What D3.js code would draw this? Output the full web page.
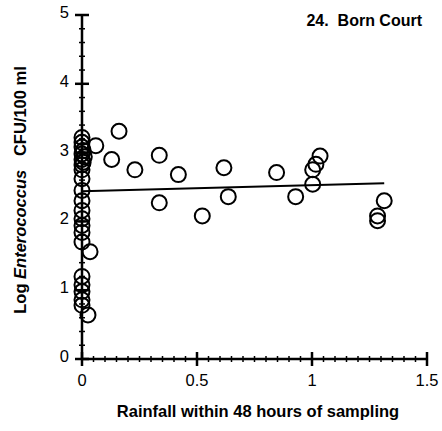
<!DOCTYPE html>
<html>
<head>
<meta charset="utf-8">
<script src="https://cdn.jsdelivr.net/npm/d3@7"></script>
<style>
  html, body { margin: 0; padding: 0; background: #fff; }
  svg { display: block; font-family: "Liberation Sans", Arial, sans-serif; }
</style>
</head>
<body>
<svg id="chart" width="442" height="431"></svg>
<script>
// Rainfall (inches within 48 h) vs. log Enterococcus count at site 24
const rainfall = [
  0, 0, 0, 0.005, 0, 0.01, 0, 0.005, 0, 0, 0, 0, 0, 0, 0, 0, 0, 0,
  0, 0, 0, 0, 0, 0.035, 0.026, 0.06,
  0.161, 0.129, 0.23, 0.336, 0.419, 0.617, 0.336, 0.523, 0.636,
  0.846, 0.929, 1.035, 1.017, 1.003, 1.003, 1.314, 1.285, 1.285
];
const logEnterococcus = [
  3.22, 3.15, 3.08, 3.03, 2.98, 2.94, 2.9, 2.86, 2.82, 2.75, 2.62, 2.45, 2.3, 2.16, 2.04, 1.94, 1.84, 1.7,
  1.2, 1.08, 0.98, 0.86, 0.78, 1.56, 0.64, 3.10,
  3.31, 2.9, 2.75, 2.96, 2.68, 2.78, 2.27, 2.08, 2.36,
  2.71, 2.36, 2.95, 2.83, 2.75, 2.54, 2.30, 2.08, 2.01
];
// Least-squares fit line
const fitIntercept = 2.44;
const fitSlope = 0.086;

const xTicks = [0, 0.5, 1, 1.5];
const xTickLabels = ["0", "0.5", "1", "1.5"];
const yTicks = [0, 1, 2, 3, 4, 5];

const svg = d3.select("#chart");
const x = d3.scaleLinear().domain([0, 1.5]).range([82, 427]);
const y = d3.scaleLinear().domain([0, 5]).range([359, 15]);

// Axes lines
svg.append("line").attr("x1", x(0)).attr("x2", x(1.5)).attr("y1", y(0)).attr("y2", y(0))
  .attr("stroke", "#000").attr("stroke-width", 2.5);
svg.append("line").attr("x1", x(0)).attr("x2", x(0)).attr("y1", y(0)).attr("y2", y(5))
  .attr("stroke", "#000").attr("stroke-width", 2.5);

// X minor ticks every 0.05, majors crossing the axis
const xMinor = d3.range(0, 1.5001, 0.05);
svg.append("g").selectAll("line").data(xMinor).join("line")
  .attr("x1", d => x(d)).attr("x2", d => x(d))
  .attr("y1", y(0) - 3).attr("y2", y(0) + 3)
  .attr("stroke", "#000").attr("stroke-width", 1.5);
svg.append("g").selectAll("line").data(xTicks).join("line")
  .attr("x1", d => x(d)).attr("x2", d => x(d))
  .attr("y1", y(0) - 7).attr("y2", y(0) + 7)
  .attr("stroke", "#000").attr("stroke-width", 2.5);
svg.append("g").selectAll("text").data(xTicks).join("text")
  .attr("x", d => x(d)).attr("y", y(0) + 27)
  .attr("text-anchor", "middle").attr("font-size", 16.5)
  .text((d, i) => xTickLabels[i]);

// Y minor ticks every 0.2, majors crossing the axis
const yMinor = d3.range(0, 5.0001, 0.2);
svg.append("g").selectAll("line").data(yMinor).join("line")
  .attr("x1", x(0) - 3).attr("x2", x(0) + 3)
  .attr("y1", d => y(d)).attr("y2", d => y(d))
  .attr("stroke", "#000").attr("stroke-width", 1.5);
svg.append("g").selectAll("line").data(yTicks).join("line")
  .attr("x1", x(0) - 7).attr("x2", x(0) + 7)
  .attr("y1", d => y(d)).attr("y2", d => y(d))
  .attr("stroke", "#000").attr("stroke-width", 2.5);
svg.append("g").selectAll("text").data(yTicks).join("text")
  .attr("x", x(0) - 13).attr("y", d => y(d) + 3)
  .attr("text-anchor", "end").attr("font-size", 16.5)
  .text(d => d);

// Fit line across the observed rainfall range
const xMax = d3.max(rainfall);
svg.append("line")
  .attr("x1", x(0)).attr("y1", y(fitIntercept))
  .attr("x2", x(xMax)).attr("y2", y(fitIntercept + fitSlope * xMax))
  .attr("stroke", "#000").attr("stroke-width", 2);

// Observations
svg.append("g").selectAll("circle").data(rainfall).join("circle")
  .attr("cx", d => x(d)).attr("cy", (d, i) => y(logEnterococcus[i]))
  .attr("r", 7.5).attr("fill", "none")
  .attr("stroke", "#000").attr("stroke-width", 2);

// Titles
svg.append("text").attr("x", 422).attr("y", 26).attr("text-anchor", "end")
  .attr("font-size", 16).attr("font-weight", "bold")
  .attr("xml:space", "preserve").text("24.  Born Court");
svg.append("text").attr("x", 258).attr("y", 417).attr("text-anchor", "middle")
  .attr("font-size", 16.5).attr("font-weight", "bold").text("Rainfall within 48 hours of sampling");

const yl = svg.append("text")
  .attr("transform", "translate(26,190) rotate(-90)")
  .attr("text-anchor", "middle").attr("font-size", 16.5).attr("font-weight", "bold")
  .attr("xml:space", "preserve");
yl.append("tspan").text("Log ");
yl.append("tspan").attr("font-style", "italic").text("Enterococcus");
yl.append("tspan").text("   CFU/100 ml");
</script>
</body>
</html>
